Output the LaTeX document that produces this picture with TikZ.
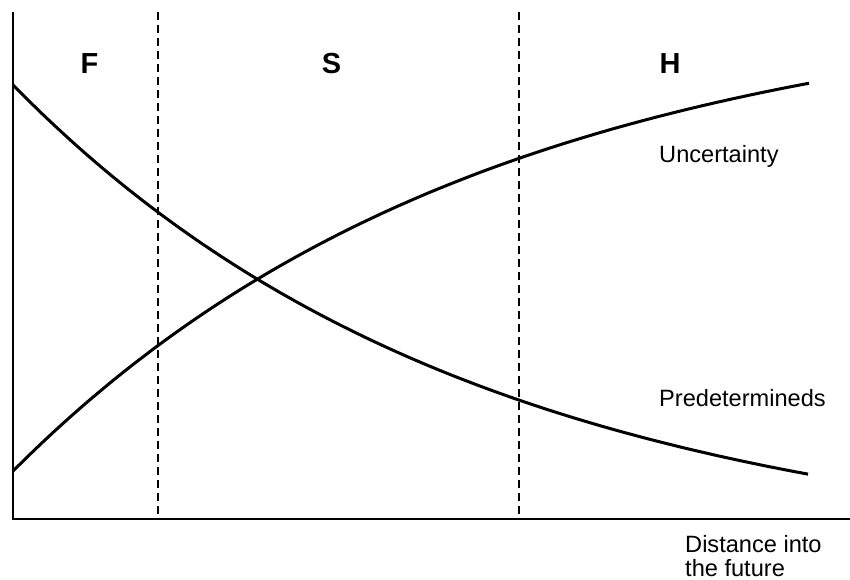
\documentclass[tikz,border=0pt]{standalone}
\usepackage{fontspec}
\setmainfont{Liberation Sans}
\begin{document}
\begin{tikzpicture}[x=1pt,y=-1pt,
  axisline/.style={line width=2pt,black},
  divider/.style={line width=1.6pt,dash pattern=on 8pt off 5pt},
  curveline/.style={line width=3pt,line join=round},
  zonelabel/.style={font=\fontsize{29}{32}\selectfont\bfseries,anchor=base,inner sep=0pt},
  curvelabel/.style={font=\fontsize{23.6}{24.5}\selectfont,anchor=base west,inner sep=0pt}]
\useasboundingbox (0,0) rectangle (850,580);
% axes
\coordinate (otop) at (13,12);
\coordinate (origin) at (13,519);
\coordinate (xend) at (850,519);
\draw[axisline] (otop) -- (origin) -- (xend);
% dividers
\coordinate (d1top) at (158,12);
\coordinate (d1bot) at (158,519);
\coordinate (d2top) at (519,12);
\coordinate (d2bot) at (519,519);
\draw[divider] (d1top) -- (d1bot);
\draw[divider] (d2top) -- (d2bot);
% curves
\draw[curveline] plot[domain=13:808,samples=120,smooth] (\x,{560-475*exp(-0.00215*(\x-13))});
\draw[curveline] plot[domain=13:809,samples=120,smooth] (\x,{-6+477*exp(-0.0021*(\x-13))});
% labels
\node[zonelabel] (F) at (89.5,74) {F};
\node[zonelabel] (S) at (331.5,74) {S};
\node[zonelabel] (H) at (670,74) {H};
\node[curvelabel] (unc) at (659,163) {Uncertainty};
\node[curvelabel] (pred) at (659,406) {Predetermineds};
\node[curvelabel] (dist1) at (685,552) {Distance into};
\node[curvelabel] (dist2) at (685,576) {the future};
\end{tikzpicture}
\end{document}
